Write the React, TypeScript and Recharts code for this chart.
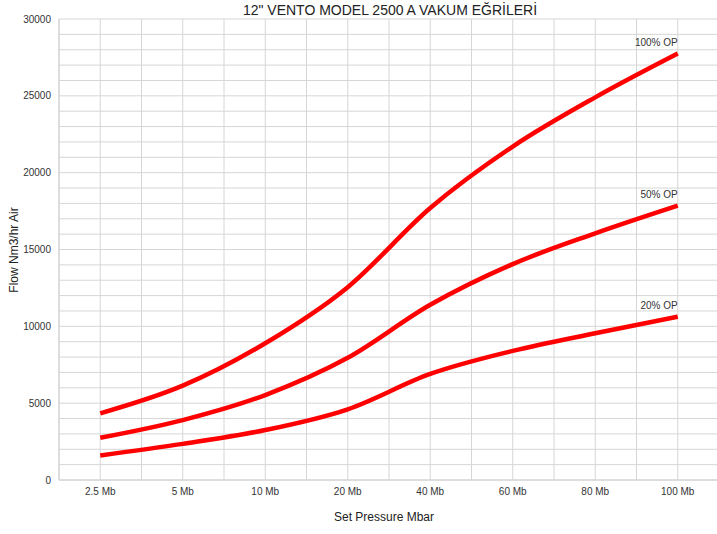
import { LineChart, Line, XAxis, YAxis, CartesianGrid, LabelList } from 'recharts';

const categories = ['2.5 Mb', '5 Mb', '10 Mb', '20 Mb', '40 Mb', '60 Mb', '80 Mb', '100 Mb'];
const op100 = [4340, 6140, 8900, 12550, 17700, 21700, 24900, 27750];
const op50 = [2750, 3900, 5530, 7950, 11400, 14050, 16050, 17850];
const op20 = [1600, 2350, 3250, 4600, 6900, 8400, 9550, 10630];
const yTicks = [0, 5000, 10000, 15000, 20000, 25000, 30000];

const data = categories.map((name, i) => ({
    x: i + 0.5,
    name,
    op100: op100[i],
    op50: op50[i],
    op20: op20[i],
}));

const xTicks = data.map(d => d.x);
const FONT = '"Liberation Sans", Arial, sans-serif';

const endLabel = (text: string) => (props: any) => {
    const { x, y, index } = props;
    if (index !== data.length - 1) return null;
    return (
        <text x={x} y={y - 8} textAnchor="end" fontSize={10} fill="#333" fontFamily={FONT}>
            {text}
        </text>
    );
};

export default function App() {
    return (
        <div style={{ position: 'absolute', left: 0, top: 0, width: 717, height: 534, background: '#fff', fontFamily: FONT, overflow: 'hidden' }}>
            <div style={{ position: 'absolute', left: 0, width: 780, top: 2, textAlign: 'center', fontSize: 14, color: '#222' }}>
                12" VENTO MODEL 2500 A VAKUM EĞRİLERİ
            </div>
            <div style={{ position: 'absolute', left: 0, width: 768, top: 510, textAlign: 'center', fontSize: 12, color: '#222' }}>
                Set Pressure Mbar
            </div>
            <div style={{ position: 'absolute', left: 14, top: 250, fontSize: 12, color: '#222', whiteSpace: 'nowrap', transform: 'translate(-50%, -50%) rotate(-90deg)' }}>
                Flow Nm3/hr Air
            </div>
            <LineChart width={720} height={534} data={data} margin={{ top: 19, right: 1, left: 0, bottom: 24 }}>
                <CartesianGrid
                    stroke="#d6d6d6"
                    verticalCoordinatesGenerator={({ offset }: any) =>
                        Array.from({ length: 17 }, (_, i) => offset.left + (i * offset.width) / 16)
                    }
                    horizontalCoordinatesGenerator={({ offset }: any) =>
                        Array.from({ length: 31 }, (_, i) => offset.top + (i * offset.height) / 30)
                    }
                />
                <XAxis
                    dataKey="x"
                    type="number"
                    domain={[0, 8]}
                    ticks={xTicks}
                    tickFormatter={(v: number) => categories[Math.round(v - 0.5)]}
                    tickLine={false}
                    axisLine={{ stroke: '#d0d0d0' }}
                    height={30}
                    tick={{ fontSize: 10, fill: '#333', fontFamily: FONT }}
                />
                <YAxis
                    type="number"
                    domain={[0, 30000]}
                    ticks={yTicks}
                    tickLine={false}
                    axisLine={{ stroke: '#d0d0d0' }}
                    width={59}
                    tick={{ fontSize: 10, fill: '#333', fontFamily: FONT }}
                />
                <Line type="monotone" dataKey="op100" stroke="#ff0000" strokeWidth={4.5} dot={false} isAnimationActive={false}>
                    <LabelList dataKey="op100" content={endLabel('100% OP')} />
                </Line>
                <Line type="monotone" dataKey="op50" stroke="#ff0000" strokeWidth={4.5} dot={false} isAnimationActive={false}>
                    <LabelList dataKey="op50" content={endLabel('50% OP')} />
                </Line>
                <Line type="monotone" dataKey="op20" stroke="#ff0000" strokeWidth={4.5} dot={false} isAnimationActive={false}>
                    <LabelList dataKey="op20" content={endLabel('20% OP')} />
                </Line>
            </LineChart>
        </div>
    );
}
